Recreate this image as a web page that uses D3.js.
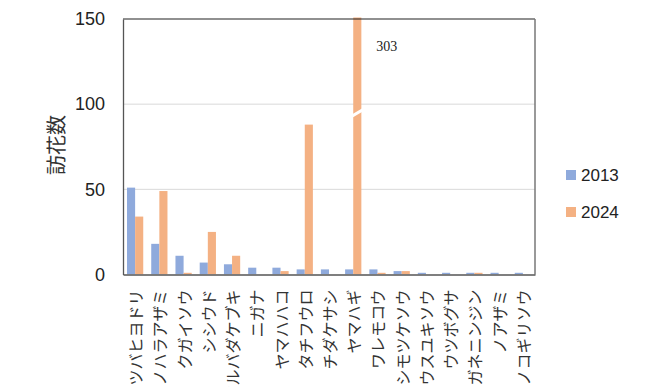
<!DOCTYPE html>
<html>
<head>
<meta charset="utf-8">
<script src="https://cdn.jsdelivr.net/npm/d3@7"></script>
<style>
  html, body { margin: 0; padding: 0; background: #fff; }
  svg { display: block; }
</style>
</head>
<body>
<svg id="chart" width="668" height="387"></svg>
<script>
// 植物ごとの訪花数（2013年と2024年）
const categories = [
  "ヨツバヒヨドリ", "ノハラアザミ", "クガイソウ", "シシウド", "マルバダケブキ",
  "ニガナ", "ヤマハハコ", "タチフウロ", "チダケサシ", "ヤマハギ",
  "ワレモコウ", "シモツケソウ", "ウスユキソウ", "ウツボグサ", "ツリガネニンジン",
  "ノアザミ", "ノコギリソウ"
];
const seriesNames = ["2013", "2024"];
const values2013 = [51, 18, 11, 7, 6, 4, 4, 3, 3, 3, 3, 2, 1, 1, 1, 1, 1];
const values2024 = [34, 49, 1, 25, 11, 0, 2, 88, 0, 303, 1, 2, 0, 0, 1, 0, 0];
const yTicks = [0, 50, 100, 150];
const yTitle = "訪花数";

const colors = { "2013": "#8faadc", "2024": "#f4b183" };

const svg = d3.select("#chart");
const plot = { left: 123, right: 535, top: 19, bottom: 274.5 };
const yMax = 150;

const x0 = d3.scaleBand().domain(categories).range([plot.left, plot.right]).padding(0);
const bw = x0.bandwidth();
const x1 = d3.scaleBand().domain(seriesNames).range([bw * 0.165, bw * 0.835]).padding(0);
const y = d3.scaleLinear().domain([0, yMax]).range([plot.bottom, plot.top]);

const rows = categories.map((c, i) => ({
  cat: c,
  vals: [
    { s: "2013", v: values2013[i] },
    { s: "2024", v: values2024[i] }
  ]
}));

// gridlines
svg.append("g")
  .selectAll("line")
  .data(yTicks.filter(t => t > 0 && t < yMax))
  .join("line")
  .attr("x1", plot.left).attr("x2", plot.right)
  .attr("y1", d => y(d)).attr("y2", d => y(d))
  .attr("stroke", "#d9d9d9").attr("stroke-width", 1);

// clip so the tall bar stops at the top of the plot frame
svg.append("defs").append("clipPath").attr("id", "plotClip")
  .append("rect")
  .attr("x", plot.left).attr("y", plot.top - 1.5)
  .attr("width", plot.right - plot.left)
  .attr("height", plot.bottom - plot.top + 1.5);

const bars = svg.append("g").attr("clip-path", "url(#plotClip)");
bars.selectAll("g")
  .data(rows)
  .join("g")
  .attr("transform", d => `translate(${x0(d.cat)},0)`)
  .selectAll("rect")
  .data(d => d.vals)
  .join("rect")
  .attr("x", d => x1(d.s))
  .attr("width", x1.bandwidth())
  .attr("y", d => y(d.v))
  .attr("height", d => Math.max(0, plot.bottom - y(d.v)))
  .attr("fill", d => colors[d.s]);

// axis break on the bar that exceeds the scale
rows.forEach(r => {
  r.vals.filter(d => d.v > yMax).forEach(d => {
    const bx = x0(r.cat) + x1(d.s);
    const w = x1.bandwidth();
    const yc = y(100) + 9;
    svg.append("polygon")
      .attr("points", [
        [bx - 1, yc + 1], [bx + w + 1, yc - 5],
        [bx + w + 1, yc - 1.5], [bx - 1, yc + 4.5]
      ].map(p => p.join(",")).join(" "))
      .attr("fill", "#fff");
    svg.append("text")
      .attr("x", bx + w + 15)
      .attr("y", y(yMax) + 32)
      .attr("font-family", "'Liberation Serif', 'DejaVu Serif', serif")
      .attr("font-size", 14)
      .attr("fill", "#222")
      .text(d.v);
  });
});

// frame
svg.append("line")
  .attr("x1", plot.left).attr("x2", plot.right)
  .attr("y1", plot.top).attr("y2", plot.top)
  .attr("stroke", "#222").attr("stroke-width", 1.2);
svg.append("line")
  .attr("x1", plot.right).attr("x2", plot.right)
  .attr("y1", plot.top).attr("y2", plot.bottom)
  .attr("stroke", "#777").attr("stroke-width", 1.5);

// y axis
const yAxis = d3.axisLeft(y).tickValues(yTicks).tickSize(0).tickPadding(18);
const gy = svg.append("g").attr("transform", `translate(${plot.left},0)`).call(yAxis);
gy.select(".domain").attr("stroke", "#555").attr("stroke-width", 1.3);
gy.selectAll("text")
  .attr("font-family", "'Liberation Sans', Arial, sans-serif")
  .attr("font-size", 18)
  .attr("fill", "#222");

// x axis
const xAxis = d3.axisBottom(x0).tickSize(0).tickPadding(0);
const gx = svg.append("g").attr("transform", `translate(0,${plot.bottom})`).call(xAxis);
gx.select(".domain").attr("stroke", "#555").attr("stroke-width", 1.5);
gx.selectAll("text")
  .attr("font-family", "'Noto Sans CJK JP', sans-serif")
  .attr("font-size", 16)
  .attr("fill", "#333")
  .attr("text-anchor", "end")
  .attr("dy", null)
  .attr("y", 0)
  .attr("transform", "translate(0,15) rotate(-90)")
  .attr("dominant-baseline", "central");

// y title
svg.append("text")
  .attr("transform", `translate(55,145) rotate(-90)`)
  .attr("text-anchor", "middle")
  .attr("dominant-baseline", "central")
  .attr("font-family", "'Noto Sans CJK JP', sans-serif")
  .attr("font-size", 20)
  .attr("fill", "#333")
  .text(yTitle);

// legend
const legend = svg.append("g").attr("transform", "translate(566,175)");
seriesNames.forEach((s, i) => {
  const g = legend.append("g").attr("transform", `translate(0,${i * 37})`);
  g.append("rect").attr("x", 0).attr("y", -5).attr("width", 10).attr("height", 10)
    .attr("fill", colors[s]);
  g.append("text").attr("x", 15).attr("y", 0)
    .attr("dominant-baseline", "central")
    .attr("font-family", "'Liberation Sans', Arial, sans-serif")
    .attr("font-size", 17)
    .attr("fill", "#222")
    .text(s);
});
</script>
</body>
</html>
